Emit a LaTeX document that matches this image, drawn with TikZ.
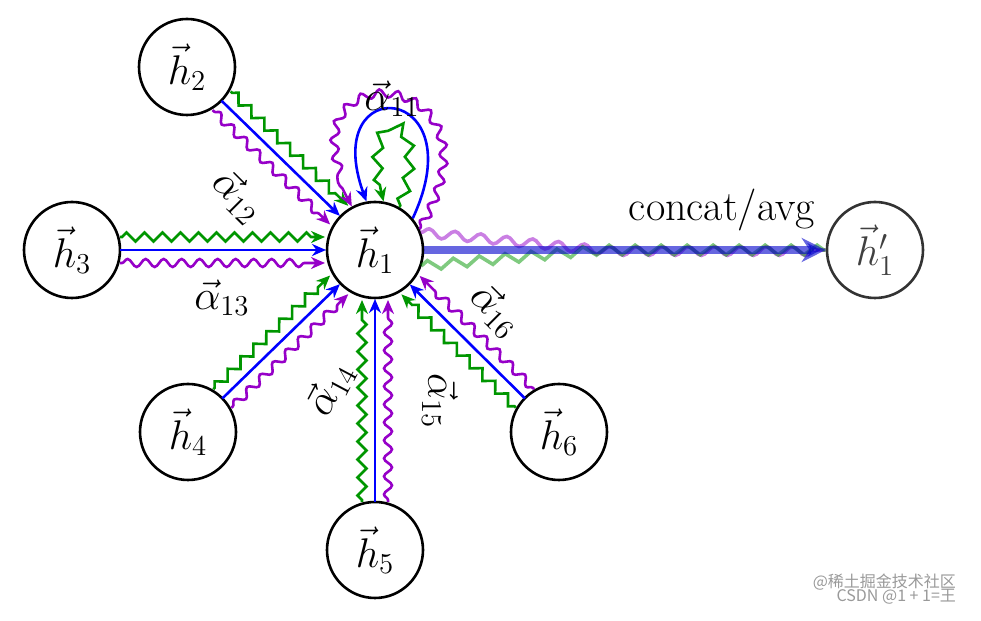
\documentclass[tikz,border=0pt]{standalone}
\usepackage{fontspec}
\newfontfamily\cjk{Noto Sans CJK SC}
\usetikzlibrary{calc,decorations.pathmorphing,arrows.meta}
\definecolor{gg}{RGB}{0,150,0}
\definecolor{pp}{RGB}{150,0,200}
\begin{document}
\begin{tikzpicture}[x=0.5pt,y=0.5pt,
  nd/.style={circle,draw,line width=1.3pt,minimum size=48pt,inner sep=0pt,font=\fontsize{21}{25}\selectfont},
  lbl/.style={font=\fontsize{21}{24}\selectfont},
  tip/.style={-{Stealth[length=7pt,width=6pt]}},
  gz/.style={draw=gg,line width=1.3pt,tip,decorate,decoration={zigzag,amplitude=2.3pt,segment length=9pt,pre length=1pt,post length=7pt}},
  bl/.style={draw=blue,line width=1.3pt,tip},
  pz/.style={draw=pp,line width=1.3pt,tip,decorate,decoration={snake,amplitude=2pt,segment length=9pt,pre length=1pt,post length=7pt}}]
\useasboundingbox (0,0) rectangle (981,621);
\node[nd] (h1) at (375,371) {$\vec{h}_1$};
\node[nd] (h2) at (187,554) {$\vec{h}_2$};
\node[nd] (h3) at (72,371) {$\vec{h}_3$};
\node[nd] (h4) at (188,189) {$\vec{h}_4$};
\node[nd] (h5) at (375,71) {$\vec{h}_5$};
\node[nd] (h6) at (559,189) {$\vec{h}_6$};
\node[nd,draw=black!80,text=black!75] (h1p) at (875,371) {$\vec{h}'_1$};
\foreach \t/\d in {135.8/262,180/303,224.2/261,270/300,-44.7/259}{
  \path[gz] ($(h1)+(\t:\d-48)+(\t-90:13)$) -- ($(h1)+(\t:50)+(\t-90:13)$);
  \path[bl] ($(h1)+(\t:\d-48)$) -- ($(h1)+(\t:49)$);
  \path[pz] ($(h1)+(\t:\d-48)+(\t+90:13)$) -- ($(h1)+(\t:50)+(\t+90:13)$);
}
% self loops
\path[pz] (h1.25) .. controls +(60:190) and +(120:180) .. (h1.118);
\path[bl] (h1.40) .. controls +(65:150) and +(110:140) .. (h1.100);
\path[gz,decoration={zigzag,amplitude=2.5pt,segment length=11pt,pre length=1pt,post length=6pt}] (h1.60) .. controls +(70:110) and +(105:110) .. (h1.80);
% output
\draw[pp,opacity=0.5,line width=1.8pt,decorate,decoration={snake,amplitude=2.2pt,segment length=13pt}] ($(h1)+(21:49)$) -- (600,371) -- (h1p.west);
\draw[gg,opacity=0.5,line width=1.8pt,decorate,decoration={zigzag,amplitude=2.4pt,segment length=13pt}] ($(h1)+(-19:49)$) -- (600,371) -- (h1p.west);
\draw[blue!80!black,opacity=0.6,line width=4pt,-{Stealth[length=12pt,width=12pt]}] (h1.east) -- (h1p.west);
\node[lbl,anchor=south] at (722,383) {concat/avg};
% labels
\node[lbl] at (392,522) {$\vec{\alpha}_{11}$};
\node[lbl,rotate=-45] at (238,425) {$\vec{\alpha}_{12}$};
\node[lbl] at (222,323) {$\vec{\alpha}_{13}$};
\node[lbl,rotate=62] at (330,232) {$\vec{\alpha}_{14}$};
\node[lbl,rotate=-90] at (440,220) {$\vec{\alpha}_{15}$};
\node[lbl,rotate=-45] at (496,311) {$\vec{\alpha}_{16}$};
\node[text=black!40,font=\cjk\fontsize{8}{9}\selectfont,anchor=south east,align=right] at (963,10) {@稀土掘金技术社区\\[-2pt]CSDN @1 + 1=王};
\end{tikzpicture}
\end{document}
